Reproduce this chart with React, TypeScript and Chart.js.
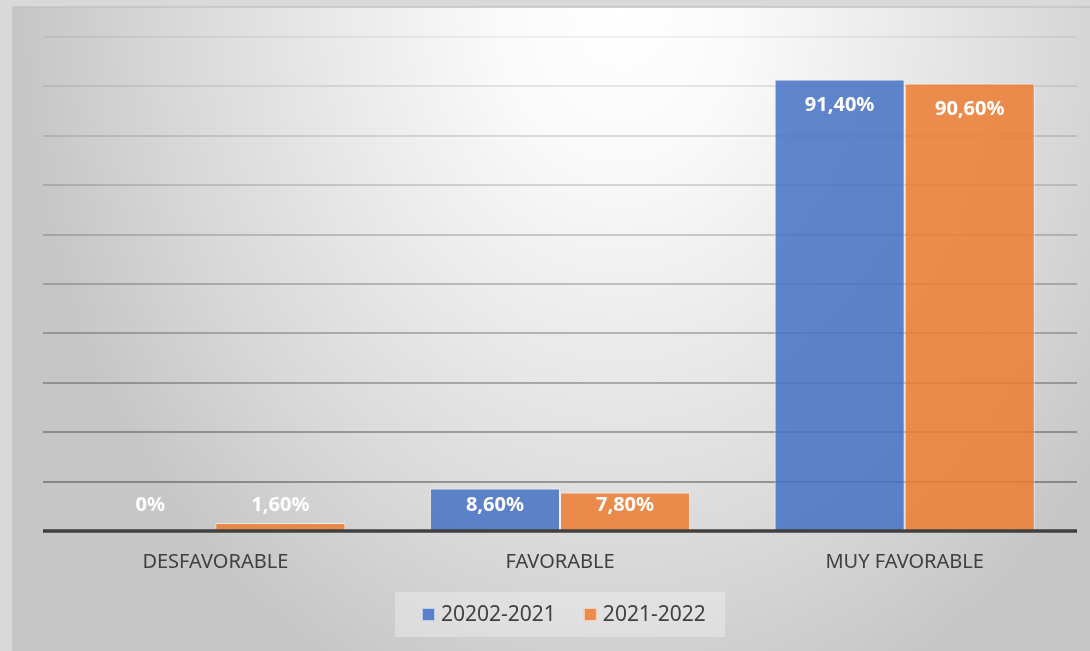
import React, { useEffect, useRef } from "react";
import { Chart, registerables } from "chart.js";

Chart.register(...registerables);

const categories = ["DESFAVORABLE", "FAVORABLE", "MUY FAVORABLE"];
const series1Label = "20202-2021";
const series1Values = [0, 8.6, 91.4];
const series2Label = "2021-2022";
const series2Values = [1.6, 7.8, 90.6];
const yMin = 0;
const yMax = 100;
const yStep = 10;

const BLUE = "rgba(68,114,196,0.85)";
const ORANGE = "rgba(237,125,49,0.85)";
const TEXT = "#404040";

const fmt = (v: number) => (v === 0 ? "0%" : v.toFixed(2).replace(".", ",") + "%");

const backgroundPlugin = {
  id: "bgPanel",
  beforeDraw(chart: any) {
    const ctx = chart.ctx;
    const W = chart.width;
    const H = chart.height;
    ctx.save();
    ctx.fillStyle = "#d9d9d9";
    ctx.fillRect(0, 0, W, H);
    const px = 13, py = 7;
    const cx = 620, rx = 600, ry = 750;
    const sy = ry / rx;
    ctx.save();
    ctx.translate(cx, py);
    ctx.scale(1, sy);
    const g = ctx.createRadialGradient(0, 0, 0, 0, 0, rx);
    g.addColorStop(0, "#ffffff");
    g.addColorStop(0.2, "#fafafa");
    g.addColorStop(0.45, "#ebebeb");
    g.addColorStop(0.75, "#d8d8d8");
    g.addColorStop(1, "#c6c6c6");
    ctx.fillStyle = g;
    ctx.fillRect(px - cx, 0, W - px, (H - py) / sy);
    ctx.restore();
    ctx.strokeStyle = "#c2c2c2";
    ctx.lineWidth = 1.5;
    ctx.beginPath();
    ctx.moveTo(px, H);
    ctx.lineTo(px, py);
    ctx.lineTo(W, py);
    ctx.stroke();
    ctx.restore();
  },
};

const overlayPlugin = {
  id: "overlay",
  afterDatasetsDraw(chart: any) {
    const ctx = chart.ctx;
    const area = chart.chartArea;
    const yScale = chart.scales.y;
    const base = yScale.getPixelForValue(0);
    ctx.save();
    ctx.strokeStyle = "#404040";
    ctx.lineWidth = 3.5;
    ctx.beginPath();
    ctx.moveTo(area.left, base);
    ctx.lineTo(area.right, base);
    ctx.stroke();
    ctx.fillStyle = "#ffffff";
    ctx.font = "bold 20px 'Noto Sans'";
    ctx.textAlign = "center";
    ctx.textBaseline = "middle";
    chart.data.datasets.forEach((ds: any, di: number) => {
      const meta = chart.getDatasetMeta(di);
      meta.data.forEach((bar: any, i: number) => {
        const y = Math.min(bar.y + 26, base - 26);
        ctx.fillText(fmt(ds.data[i]), bar.x, y);
      });
    });
    ctx.restore();
  },
  afterDraw(chart: any) {
    const ctx = chart.ctx;
    ctx.save();
    const boxL = 395, boxT = 592, boxR = 725, boxB = 637;
    ctx.fillStyle = "rgba(255,255,255,0.3)";
    ctx.fillRect(boxL, boxT, boxR - boxL, boxB - boxT);
    ctx.font = "21px 'Noto Sans'";
    ctx.textBaseline = "middle";
    ctx.textAlign = "left";
    const cy = (boxT + boxB) / 2;
    let x = boxL + 27;
    chart.data.datasets.forEach((ds: any) => {
      const sq = 13;
      ctx.fillStyle = ds.backgroundColor;
      ctx.fillRect(x, cy - sq / 2, sq, sq);
      ctx.strokeStyle = "rgba(255,255,255,0.6)";
      ctx.lineWidth = 1;
      ctx.strokeRect(x + 0.5, cy - sq / 2 + 0.5, sq - 1, sq - 1);
      x += sq + 6;
      ctx.fillStyle = TEXT;
      ctx.fillText(ds.label, x, cy + 1);
      x += ctx.measureText(ds.label).width + 28;
    });
    ctx.restore();
  },
};

export default function App() {
  const ref = useRef<HTMLCanvasElement | null>(null);
  useEffect(() => {
    document.body.style.margin = "0";
    if (!ref.current) return;
    const chart = new Chart(ref.current, {
      type: "bar",
      data: {
        labels: categories,
        datasets: [
          {
            label: series1Label,
            data: series1Values,
            backgroundColor: BLUE,
            borderColor: "rgba(255,255,255,0.6)",
            borderWidth: 1,
            categoryPercentage: 0.755,
            barPercentage: 1,
          },
          {
            label: series2Label,
            data: series2Values,
            backgroundColor: ORANGE,
            borderColor: "rgba(255,255,255,0.6)",
            borderWidth: 1,
            categoryPercentage: 0.755,
            barPercentage: 1,
          },
        ],
      },
      options: {
        animation: false,
        responsive: false,
        devicePixelRatio: 1,
        layout: { padding: { top: 37, left: 43, right: 13, bottom: 0 } },
        plugins: {
          legend: { display: false },
          tooltip: { enabled: false },
        },
        scales: {
          x: {
            grid: { display: false, drawTicks: false },
            border: { display: false },
            ticks: {
              color: TEXT,
              font: { family: "'Noto Sans'", size: 20 },
              padding: 19,
            },
            afterFit: (scale: any) => {
              scale.height = 120;
            },
          },
          y: {
            min: yMin,
            max: yMax,
            ticks: { display: false, stepSize: yStep },
            border: { display: false },
            grid: {
              drawTicks: false,
              lineWidth: 2,
              color: (c: any) => {
                const v = c.tick ? c.tick.value : 0;
                if (v <= 0) return "rgba(0,0,0,0)";
                const a = 0.05 + ((100 - v) / 90) * 0.28;
                return `rgba(0,0,0,${a.toFixed(3)})`;
              },
            },
          },
        },
      },
      plugins: [backgroundPlugin, overlayPlugin],
    });
    return () => chart.destroy();
  }, []);
  return (
    <div style={{ width: 1090, height: 651 }}>
      <canvas ref={ref} width={1090} height={651} style={{ display: "block" }} />
    </div>
  );
}
